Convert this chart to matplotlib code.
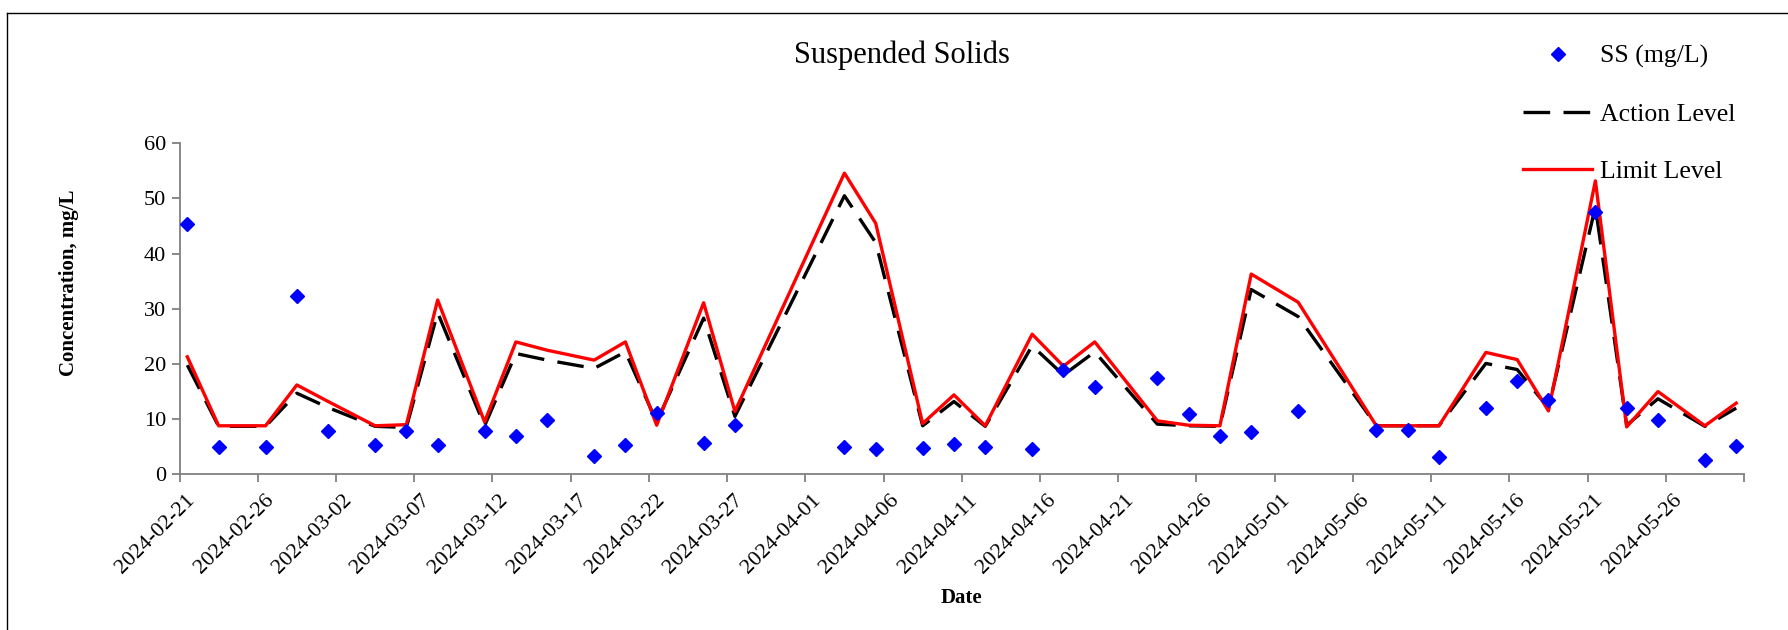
import numpy as np
import pandas as pd
import matplotlib
matplotlib.use("Agg")
import matplotlib.pyplot as plt
import matplotlib.transforms as mtransforms
from matplotlib.lines import Line2D

plt.rcParams['font.family'] = ['Liberation Serif', 'DejaVu Serif']

# Sampling dates
dates = ['2024-02-21', '2024-02-23', '2024-02-26', '2024-02-28', '2024-03-01',
         '2024-03-04', '2024-03-06', '2024-03-08', '2024-03-11', '2024-03-13',
         '2024-03-15', '2024-03-18', '2024-03-20', '2024-03-22', '2024-03-25',
         '2024-03-27', '2024-04-03', '2024-04-05', '2024-04-08', '2024-04-10',
         '2024-04-12', '2024-04-15', '2024-04-17', '2024-04-19', '2024-04-23',
         '2024-04-25', '2024-04-27', '2024-04-29', '2024-05-02', '2024-05-07',
         '2024-05-09', '2024-05-11', '2024-05-14', '2024-05-16', '2024-05-18',
         '2024-05-21', '2024-05-23', '2024-05-25', '2024-05-28', '2024-05-30']

# Suspended solids (mg/L)
ss = [45.4, 4.9, 4.9, 32.4, 7.9, 5.4, 7.9, 5.4, 7.9, 6.9,
      9.9, 3.4, 5.3, 11.1, 5.6, 8.9, 4.9, 4.6, 4.7, 5.5,
      4.9, 4.6, 18.9, 15.9, 17.5, 10.9, 6.9, 7.6, 11.4, 8.0,
      8.0, 3.2, 12.0, 16.9, 13.5, 47.5, 12.0, 9.8, 2.6, 5.1]

action = [19.8, 8.7, 8.7, 14.7, 12.1, 8.7, 8.5, 29.3, 8.8, 21.9,
          20.7, 19.2, 22.2, 9.5, 28.3, 10.5, 50.5, 42.0, 8.8, 13.2,
          8.7, 23.3, 18.0, 22.2, 9.1, 8.8, 8.7, 33.5, 28.6, 8.8,
          8.8, 8.8, 20.1, 19.0, 12.0, 48.5, 8.9, 13.7, 8.7, 12.0]

limit = [21.3, 8.8, 8.8, 16.2, 13.2, 8.8, 9.0, 31.6, 9.5, 24.0,
         22.5, 20.7, 24.0, 8.9, 31.1, 11.4, 54.6, 45.5, 9.2, 14.4,
         8.8, 25.4, 19.6, 24.0, 9.7, 8.9, 8.8, 36.3, 31.2, 8.8,
         8.8, 8.8, 22.1, 20.8, 11.5, 53.2, 8.6, 15.0, 8.8, 12.9]

start, end = '2024-02-21', '2024-05-31'

# points sit in the middle of each day like the spreadsheet chart
x = pd.to_datetime(dates) + pd.Timedelta(hours=12)
ticks = pd.date_range(start, end, freq='5D')
tick_labels = [d.strftime('%Y-%m-%d') for d in ticks[:-1]] + ['']

fig = plt.figure(figsize=(17.88, 6.3), dpi=100)
ax = fig.add_axes([0.1004, 0.2471, 0.8750, 0.5254])

ax.plot(x, action, color='black', lw=2.4, dashes=(8, 4), label='Action Level', zorder=2)
ax.plot(x, limit, color='red', lw=2.4, label='Limit Level', zorder=3)
ax.plot(x, ss, ls='none', marker='D', ms=6.8, color='blue', label='SS (mg/L)', zorder=4)

ax.set_xlim(pd.Timestamp(start), pd.Timestamp(end))
ax.set_ylim(0, 60)
ax.set_yticks(range(0, 61, 10))
ax.set_xticks(ticks)
ax.set_xticklabels(tick_labels, rotation=45, ha='right', va='center', rotation_mode='anchor')

for s in ['top', 'right']:
    ax.spines[s].set_visible(False)
for s in ['left', 'bottom']:
    ax.spines[s].set_color('#808080')
    ax.spines[s].set_linewidth(1.3)
ax.tick_params(axis='both', colors='#808080', labelcolor='black', labelsize=16,
               length=6, width=1.3, direction='out')
ax.tick_params(axis='x', pad=8)

# nudge date labels a little right/down
shift = mtransforms.ScaledTranslation(0.13, -0.04, fig.dpi_scale_trans)
for lab in ax.get_xticklabels():
    lab.set_transform(lab.get_transform() + shift)

ax.set_xlabel('Date', fontsize=15, fontweight='bold', labelpad=7)
ax.set_ylabel('Concentration, mg/L', fontsize=15, fontweight='bold')
ax.yaxis.set_label_coords(-0.064, 0.58)
fig.text(0.5042, 1 - 55 / 630, 'Suspended Solids', fontsize=22, ha='center', va='center')

h, l = ax.get_legend_handles_labels()
order = [2, 0, 1]
fig.legend([h[i] for i in order], [l[i] for i in order], loc='upper left',
           bbox_to_anchor=(0.8518, 1 - 45 / 630), frameon=False, fontsize=18.5,
           handlelength=2.7, handletextpad=0.3, labelspacing=1.33,
           borderpad=0, borderaxespad=0)

# outer chart frame (top and left edges visible)
fig.add_artist(Line2D([7 / 1788, 1], [1 - 13 / 630] * 2, color='black', lw=1))
fig.add_artist(Line2D([7 / 1788] * 2, [0, 1 - 13 / 630], color='black', lw=1))

fig.savefig('out.png', dpi=100)
